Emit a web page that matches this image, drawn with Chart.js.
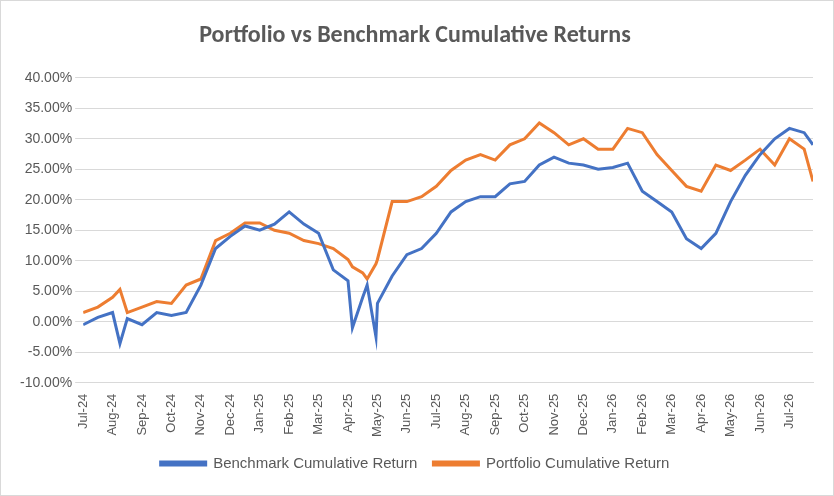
<!DOCTYPE html>
<html>
<head>
<meta charset="utf-8">
<script src="https://cdn.jsdelivr.net/npm/chart.js@4"></script>
<style>
  html, body { margin: 0; padding: 0; background: #fff; }
  #wrap { width: 834px; height: 496px; box-sizing: border-box; border: 1px solid #d9d9d9; }
</style>
</head>
<body>
<div id="wrap"><canvas id="chart" width="832" height="494"></canvas></div>
<script>
// months since Jul-24 (x), cumulative return in % (y)
const monthLabels = ['Jul-24','Aug-24','Sep-24','Oct-24','Nov-24','Dec-24','Jan-25','Feb-25','Mar-25','Apr-25','May-25','Jun-25','Jul-25','Aug-25','Sep-25','Oct-25','Nov-25','Dec-25','Jan-26','Feb-26','Mar-26','Apr-26','May-26','Jun-26','Jul-26'];
const xPoints = [0,0.5,1,1.25,1.5,2,2.5,3,3.5,4,4.5,5,5.5,6,6.5,7,7.5,8,8.5,9,9.15,9.5,9.65,9.95,10,10.5,11,11.5,12,12.5,13,13.5,14,14.5,15,15.5,16,16.5,17,17.5,18,18.5,19,19.5,20,20.5,21,21.5,22,22.5,23,23.5,24,24.5,24.8];
const benchmark = [-0.5,0.7,1.5,-3.6,0.5,-0.5,1.5,1,1.5,6,12,14,15.7,15,16,18,16,14.5,8.5,6.7,-1,4,6,-2.5,3,7.5,11,12,14.5,18,19.7,20.5,20.5,22.6,23,25.7,27,26,25.7,25,25.3,26,21.4,19.7,18,13.6,12,14.5,19.7,24,27.4,30,31.7,31,29];
const portfolio = [1.5,2.4,4,5.3,1.5,2.4,3.3,3,6,7,13.3,14.5,16.2,16.2,15,14.5,13.3,12.8,12,10.2,9,8,7,9.5,10.2,19.7,19.7,20.5,22.2,24.8,26.5,27.4,26.5,29,30,32.6,31,29,30,28.3,28.3,31.7,31,27.4,24.8,22.2,21.4,25.7,24.8,26.5,28.3,25.7,30,28.3,23];

const toPts = vals => vals.map((v, i) => ({ x: xPoints[i], y: v }));

new Chart(document.getElementById('chart'), {
  type: 'line',
  data: {
    datasets: [
      { label: 'Benchmark Cumulative Return', data: toPts(benchmark), borderColor: '#4472c4', backgroundColor: '#4472c4', borderWidth: 3, pointRadius: 0, tension: 0 },
      { label: 'Portfolio Cumulative Return', data: toPts(portfolio), borderColor: '#ed7d31', backgroundColor: '#ed7d31', borderWidth: 3, pointRadius: 0, tension: 0 }
    ]
  },
  options: {
    responsive: false,
    animation: false,
    layout: { padding: { left: 16, right: 20, top: 5, bottom: 14 } },
    plugins: {
      title: { display: true, text: 'Portfolio vs Benchmark Cumulative Returns', color: '#595959', font: { family: 'Calibri, Carlito, "Open Sans", sans-serif', size: 24, weight: 'bold' }, padding: { top: 16, bottom: 27 } },
      legend: { position: 'bottom', labels: { color: '#595959', font: { size: 15 }, boxWidth: 45, boxHeight: 3, padding: 16 } },
      tooltip: { enabled: false }
    },
    scales: {
      x: {
        type: 'linear', min: 0, max: 24.8,
        ticks: { stepSize: 1, autoSkip: false, maxRotation: 90, minRotation: 90, color: '#595959', font: { size: 13 },
          callback: v => monthLabels[v] || '' },
        grid: { display: false },
        border: { color: '#d9d9d9' }
      },
      y: {
        min: -10, max: 40,
        ticks: { stepSize: 5, color: '#595959', font: { size: 14 }, callback: v => v.toFixed(2) + '%' },
        grid: { color: '#d9d9d9' },
        border: { display: false }
      }
    }
  }
});
</script>
</body>
</html>
